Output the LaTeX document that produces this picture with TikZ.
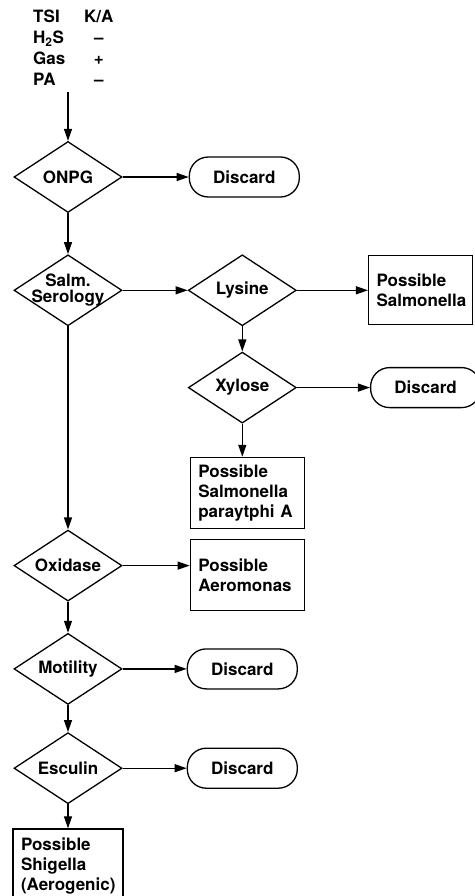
\documentclass[tikz,border=0pt]{standalone}
\usepackage{fontspec}
\setmainfont{TeX Gyre Heros}
\usepackage{tikz}
\usetikzlibrary{positioning,shapes.geometric,arrows.meta}

\tikzset{
	txt/.style={font=\fontsize{17}{20}\selectfont\bfseries},
	test/.style={draw, txt, diamond, aspect=1.5, inner sep=0pt,
		minimum width=108pt, minimum height=71pt, align=center, line width=1.3pt},
	discard/.style={draw, txt, rectangle, rounded corners=19pt,
		minimum width=110pt, minimum height=40pt, line width=1.3pt},
	result/.style={draw, txt, rectangle, align=left, text width=98pt,
		inner xsep=8pt, minimum height=71pt, line width=1.3pt},
	flow/.style={-{Stealth[length=12pt,width=8pt,inset=0pt]}, line width=1.2pt}
}

\begin{document}
\begin{tikzpicture}[x=1pt,y=1pt]
		
		\useasboundingbox (0,0) rectangle (474,-896);
		
		% TSI reactions
		\renewcommand{\arraystretch}{1.05}
		\node [txt,
		inner sep=0pt,
		anchor=north west
		] (tsi) at (33,-8) {\begin{tabular}{@{}p{51pt}@{}c@{}}
				TSI & K/A\\
				H\textsubscript{2}S & --\\
				Gas & +\\
				PA & --
		\end{tabular}};
		
		% ONPG
		\node [test] (onpg) at (68,-177) {ONPG};
		
		\node [discard,
		right= 66pt of onpg
		] (disc1) {Discard};
		
		% Salmonella serology
		\node [test,
		font=\fontsize{17}{16}\selectfont\bfseries,
		below= 41pt of onpg
		] (salm) {\makebox[0pt]{Salm.}\\ \makebox[0pt]{Serology}};
		
		\node [test,
		right= 65pt of salm
		] (lys) {Lysine};
		
		\node [result,
		text width=88pt,
		minimum height=69pt,
		right= 71pt of lys
		] (psal) {Possible\\ Salmonella};
		
		\node [test,
		below= 25pt of lys
		] (xyl) {Xylose};
		
		\node [discard,
		right= 73pt of xyl
		] (disc2) {Discard};
		
		\node [result,
		below= 33pt of xyl,
		xshift=5pt
		] (ppa) {Possible\\ Salmonella\\ paraytphi A};
		
		\node [result,
		below= 10pt of ppa
		] (aer) {Possible\\ Aeromonas};
		
		% Oxidase
		\node [test,
		below= 203pt of salm
		] (oxi) {Oxidase};
		
		% Motility
		\node [test,
		below= 31pt of oxi
		] (mot) {Motility};
		
		\node [discard,
		right= 64pt of mot
		] (disc3) {Discard};
		
		% Esculin
		\node [test,
		below= 27pt of mot
		] (esc) {Esculin};
		
		\node [discard,
		right= 64pt of esc
		] (disc4) {Discard};
		
		\node [result,
		text width=94pt,
		minimum height=74pt,
		below= 24pt of esc
		] (shig) {Possible\\ Shigella\\ (Aerogenic)};
		
		\draw[flow] (tsi.south -| onpg.north) -- (onpg.north);
		
		\draw[flow] (onpg) -- (disc1);
		
		\draw[flow] (onpg) -- (salm);
		
		\draw[flow] (salm) -- (lys);
		
		\draw[flow] (lys) -- (psal);
		
		\draw[flow] (lys) -- (xyl);
		
		\draw[flow] (xyl) -- (disc2);
		
		\draw[flow] (xyl.south) -- (xyl.south |- ppa.north);
		
		\draw[flow] (salm) -- (oxi);
		
		\draw[flow] (oxi.east) -- (oxi.east -| aer.west);
		
		\draw[flow] (oxi) -- (mot);
		
		\draw[flow] (mot) -- (disc3);
		
		\draw[flow] (mot) -- (esc);
		
		\draw[flow] (esc) -- (disc4);
		
		\draw[flow] (esc) -- (shig);
		
\end{tikzpicture}
\end{document}
